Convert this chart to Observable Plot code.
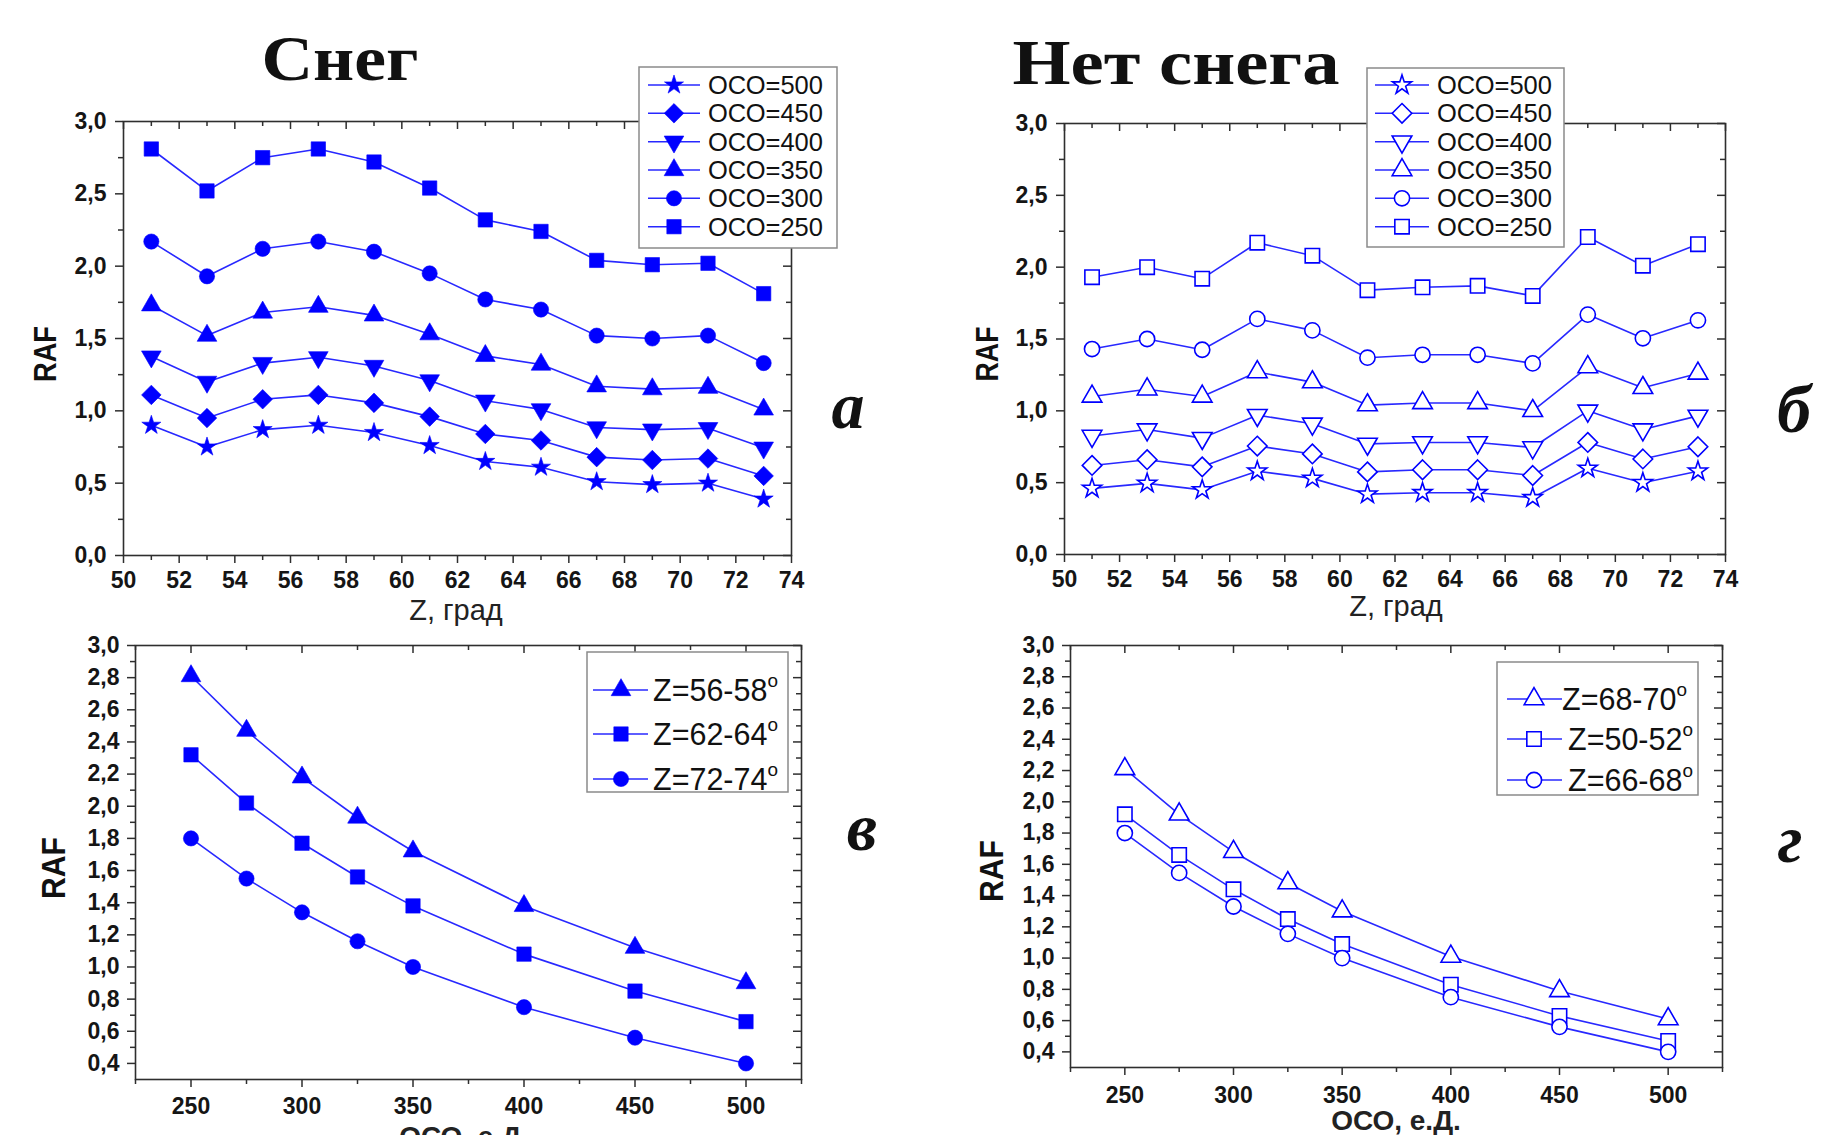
<!DOCTYPE html>
<html><head><meta charset="utf-8">
<script src="https://cdn.jsdelivr.net/npm/d3@7"></script>
<script src="https://cdn.jsdelivr.net/npm/@observablehq/plot@0.6"></script>
<style>
body{margin:0;background:#fff;}
#root{position:relative;width:1843px;height:1135px;overflow:hidden;background:#fff;}
</style></head><body><div id="root"></div>
<script>
// ---------- DATA ----------
const zenith = [51,53,55,57,59,61,63,65,67,69,71,73];
// Panel а (snow)
const snow500 = [0.90,0.75,0.87,0.90,0.85,0.76,0.65,0.61,0.51,0.49,0.50,0.39];
const snow450 = [1.11,0.95,1.08,1.11,1.055,0.96,0.84,0.795,0.68,0.66,0.67,0.55];
const snow400 = [1.375,1.20,1.33,1.37,1.31,1.21,1.07,1.01,0.885,0.87,0.88,0.745];
const snow350 = [1.73,1.52,1.68,1.72,1.66,1.53,1.38,1.32,1.17,1.15,1.16,1.01];
const snow300 = [2.17,1.93,2.12,2.17,2.10,1.95,1.77,1.70,1.52,1.50,1.52,1.33];
const snow250 = [2.81,2.52,2.75,2.81,2.72,2.54,2.32,2.24,2.04,2.01,2.02,1.81];
// Panel б (no snow)
const nosnow500 = [0.46,0.495,0.45,0.58,0.53,0.42,0.43,0.43,0.395,0.60,0.50,0.58];
const nosnow450 = [0.62,0.66,0.61,0.755,0.70,0.575,0.59,0.59,0.55,0.78,0.665,0.75];
const nosnow400 = [0.825,0.87,0.81,0.97,0.91,0.77,0.78,0.78,0.745,1.00,0.87,0.965];
const nosnow350 = [1.10,1.15,1.10,1.27,1.20,1.04,1.055,1.055,1.00,1.305,1.16,1.26];
const nosnow300 = [1.43,1.50,1.425,1.64,1.56,1.37,1.39,1.39,1.33,1.67,1.505,1.63];
const nosnow250 = [1.93,2.00,1.92,2.17,2.08,1.84,1.86,1.87,1.80,2.21,2.01,2.16];
const ocoLabels = ["ОСО=500","ОСО=450","ОСО=400","ОСО=350","ОСО=300","ОСО=250"];
// Panels в, г
const oco = [250,275,300,325,350,400,450,500];
const snowZ5658 = [2.81,2.47,2.18,1.93,1.72,1.38,1.12,0.90];
const snowZ6264 = [2.32,2.02,1.77,1.56,1.38,1.08,0.85,0.66];
const snowZ7274 = [1.80,1.55,1.34,1.16,1.00,0.75,0.56,0.40];
const nosnowZ6870 = [2.21,1.92,1.68,1.48,1.30,1.01,0.79,0.61];
const nosnowZ5052 = [1.92,1.66,1.44,1.25,1.09,0.83,0.63,0.47];
const nosnowZ6668 = [1.80,1.545,1.33,1.155,1.00,0.75,0.56,0.40];
const labelsV = ["Z=56-58","Z=62-64","Z=72-74"];
const labelsG = ["Z=68-70","Z=50-52","Z=66-68"];
// ticks
const zTicks = [50,52,54,56,58,60,62,64,66,68,70,72,74];
const zMinor = [51,53,55,57,59,61,63,65,67,69,71,73];
const rafTicksTop = [0,0.5,1,1.5,2,2.5,3];
const rafMinorTop = [0.25,0.75,1.25,1.75,2.25,2.75];
const ocoTicks = [250,300,350,400,450,500];
const ocoMinor = [225,275,325,375,425,475,525];
const rafTicksBot = [0.4,0.6,0.8,1.0,1.2,1.4,1.6,1.8,2.0,2.2,2.4,2.6,2.8,3.0];
const rafMinorBot = [0.5,0.7,0.9,1.1,1.3,1.5,1.7,1.9,2.1,2.3,2.5,2.7,2.9];

// ---------- STYLE ----------
const axisInk = "#2e2e2e";
const markColor = "#0000ff";
const lineColor = "#2828ff";
const sansFont = "'Liberation Sans', Arial, sans-serif";
const triangleDown = {draw(ctx, size){const s3=Math.sqrt(3);const y=-Math.sqrt(size/(s3*3));ctx.moveTo(0,-2*y);ctx.lineTo(-s3*y,y);ctx.lineTo(s3*y,y);ctx.closePath();}};
const SYM = {
  star:{type:d3.symbolStar, r:6},
  diamond:{type:d3.symbolDiamond2, r:8.8},
  tdown:{type:triangleDown, r:7.3},
  tup:{type:d3.symbolTriangle, r:7.3},
  circle:{type:d3.symbolCircle, r:7.6},
  square:{type:d3.symbolSquare, r:8.1}
};
const fmtComma = d => d.toFixed(1).replace(".", ",");

const root = document.getElementById("root");

function drawPanel(p){
  const mL=110, mR=14, mT=14, mB=60;
  const w = p.R - p.L, h = p.B - p.T;
  const txtStyle = {fontSize: p.fontSize, fontWeight: "bold", fontFamily: sansFont, fill: "#151515"};
  const marks = [];
  p.series.forEach(s => {
    const rows = s.x.map((x,i)=>({x, y:s.y[i]}));
    marks.push(Plot.line(rows, {x:"x", y:"y", stroke: lineColor, strokeWidth: 1.6}));
  });
  p.series.forEach(s => {
    const rows = s.x.map((x,i)=>({x, y:s.y[i]}));
    const sy = SYM[s.symbol];
    marks.push(Plot.dot(rows, {x:"x", y:"y", symbol: sy.type, r: sy.r,
      fill: p.hollow ? "white" : markColor, stroke: markColor, strokeWidth: p.hollow ? 1.6 : 0.6}));
  });
  marks.push(
    Plot.frame({stroke: axisInk, strokeWidth: 1.6}),
    Plot.axisX(p.xTicks, {tickSize: 8, tickPadding: p.xPad, tickFormat: d => String(d), strokeWidth: 1.5, stroke: axisInk, label: null, ...txtStyle}),
    Plot.axisX(p.xMinor, {tickSize: 5, tickFormat: () => "", strokeWidth: 1.5, stroke: axisInk, label: null}),
    Plot.axisY(p.yTicks, {tickSize: 8, tickPadding: p.yPad, tickFormat: fmtComma, strokeWidth: 1.5, stroke: axisInk, label: null, ...txtStyle}),
    Plot.axisY(p.yMinor, {tickSize: 5, tickFormat: () => "", strokeWidth: 1.5, stroke: axisInk, label: null}),
    Plot.tickX(p.xTicks, {x: d => d, insetBottom: h - 8, stroke: axisInk, strokeWidth: 1.5}),
    Plot.tickX(p.xMinor, {x: d => d, insetBottom: h - 5, stroke: axisInk, strokeWidth: 1.5}),
    Plot.tickY(p.yTicks, {y: d => d, insetLeft: w - 8, stroke: axisInk, strokeWidth: 1.5}),
    Plot.tickY(p.yMinor, {y: d => d, insetLeft: w - 5, stroke: axisInk, strokeWidth: 1.5})
  );
  const svg = Plot.plot({
    width: w + mL + mR, height: h + mT + mB,
    marginLeft: mL, marginRight: mR, marginTop: mT, marginBottom: mB,
    x: {domain: p.xDomain, label: null},
    y: {domain: p.yDomain, label: null},
    style: {fontFamily: sansFont, fontSize: p.fontSize + "px", fontWeight: "bold",
            color: "#1a1a1a", background: "transparent", overflow: "visible", maxWidth: "none"},
    marks
  });
  svg.style.position = "absolute";
  svg.style.left = (p.L - mL) + "px";
  svg.style.top = (p.T - mT) + "px";
  root.appendChild(svg);
}

drawPanel({L:123, R:791, T:121, B:555, xDomain:[50,74], yDomain:[0,3],
  xTicks: zTicks, xMinor: zMinor, yTicks: rafTicksTop, yMinor: rafMinorTop, xPad: 8, yPad: 9, fontSize: 23,
  hollow: false,
  series: [
    {x: zenith, y: snow500, symbol:"star"},
    {x: zenith, y: snow450, symbol:"diamond"},
    {x: zenith, y: snow400, symbol:"tdown"},
    {x: zenith, y: snow350, symbol:"tup"},
    {x: zenith, y: snow300, symbol:"circle"},
    {x: zenith, y: snow250, symbol:"square"}
  ]});
drawPanel({L:1064, R:1725, T:123, B:554, xDomain:[50,74], yDomain:[0,3],
  xTicks: zTicks, xMinor: zMinor, yTicks: rafTicksTop, yMinor: rafMinorTop, xPad: 8, yPad: 9, fontSize: 23,
  hollow: true,
  series: [
    {x: zenith, y: nosnow500, symbol:"star"},
    {x: zenith, y: nosnow450, symbol:"diamond"},
    {x: zenith, y: nosnow400, symbol:"tdown"},
    {x: zenith, y: nosnow350, symbol:"tup"},
    {x: zenith, y: nosnow300, symbol:"circle"},
    {x: zenith, y: nosnow250, symbol:"square"}
  ]});
drawPanel({L:135, R:801, T:645, B:1079, xDomain:[225,525], yDomain:[0.3,3],
  xTicks: ocoTicks, xMinor: ocoMinor, yTicks: rafTicksBot, yMinor: rafMinorBot, xPad: 10, yPad: 8, fontSize: 23,
  hollow: false,
  series: [
    {x: oco, y: snowZ5658, symbol:"tup"},
    {x: oco, y: snowZ6264, symbol:"square"},
    {x: oco, y: snowZ7274, symbol:"circle"}
  ]});
drawPanel({L:1070, R:1722, T:645, B:1067, xDomain:[225,525], yDomain:[0.3,3],
  xTicks: ocoTicks, xMinor: ocoMinor, yTicks: rafTicksBot, yMinor: rafMinorBot, xPad: 11, yPad: 8, fontSize: 23,
  hollow: true,
  series: [
    {x: oco, y: nosnowZ6870, symbol:"tup"},
    {x: oco, y: nosnowZ5052, symbol:"square"},
    {x: oco, y: nosnowZ6668, symbol:"circle"}
  ]});

// ---------- OVERLAY: titles, labels, legends ----------
const ov = d3.select(root).append("svg")
  .attr("width", 1843).attr("height", 1135)
  .style("position","absolute").style("left","0px").style("top","0px");

function txt(t, x, y, o){
  const e = ov.append("text").attr("x", x).attr("y", y).text(t)
    .attr("text-anchor", o.anchor || "middle")
    .style("font-family", o.family || sansFont)
    .style("font-size", o.size + "px")
    .style("font-weight", o.weight || "normal")
    .style("font-style", o.style || "normal")
    .attr("fill", o.fill || "#111");
  if (o.len) e.attr("textLength", o.len).attr("lengthAdjust", "spacingAndGlyphs");
  if (o.rotate) e.attr("transform", `rotate(${o.rotate},${x},${y})`).attr("dy", "0.36em");
  return e;
}
const serif = "'Liberation Serif', 'Times New Roman', serif";
txt("Снег", 340, 80, {size: 64, weight: "bold", family: serif, len: 157});
txt("Нет снега", 1176, 84, {size: 64, weight: "bold", family: serif, len: 327});
txt("а", 848, 428, {size: 66, weight: "bold", style: "italic", family: serif});
txt("б", 1794, 432, {size: 68, weight: "bold", style: "italic", family: serif});
txt("в", 862, 850, {size: 68, weight: "bold", style: "italic", family: serif});
txt("г", 1790, 862, {size: 68, weight: "bold", style: "italic", family: serif});
txt("RAF", 45, 354, {size: 31, weight: "bold", rotate: -90, len: 56});
txt("RAF", 987, 354, {size: 31, weight: "bold", rotate: -90, len: 55});
txt("RAF", 53, 868, {size: 34, weight: "bold", rotate: -90, len: 62});
txt("RAF", 991, 871, {size: 34, weight: "bold", rotate: -90, len: 62});
txt("Z, град", 456, 620, {size: 29, fill: "#222"});
txt("Z, град", 1396, 616, {size: 29, fill: "#222"});
txt("ОСО, е.Д.", 464, 1146, {size: 28, weight: "bold", fill: "#222"});
txt("ОСО, е.Д.", 1396, 1130, {size: 28, weight: "bold", fill: "#222"});

function legend(L){
  const g = ov.append("g").attr("transform", `translate(${L.x},${L.y})`);
  g.append("rect").attr("width", L.w).attr("height", L.h).attr("fill", "white")
    .attr("stroke", "#8a8a8a").attr("stroke-width", 1.5);
  L.labels.forEach((lab, i) => {
    const y = L.rows[i];
    g.append("line").attr("x1", L.lx1).attr("x2", L.lx2).attr("y1", y).attr("y2", y)
      .attr("stroke", lineColor).attr("stroke-width", 1.6);
    const sy = SYM[L.symbols[i]];
    g.append("path").attr("d", d3.symbol(sy.type, Math.PI * sy.r * sy.r)())
      .attr("transform", `translate(${L.mx},${y})`)
      .attr("fill", L.hollow ? "white" : markColor).attr("stroke", markColor)
      .attr("stroke-width", L.hollow ? 1.6 : 0.6);
    const t = g.append("text").attr("x", L.tx[i]).attr("y", y).attr("dy", "0.36em")
      .style("font-family", sansFont).style("font-size", L.size + "px")
      .attr("fill", "#111").text(lab);
    if (L.deg) t.append("tspan").attr("dy", "-0.72em").style("font-size", (L.size * 0.62) + "px").text("o");
  });
}
const rowsTop = [18, 46.3, 74.7, 103, 131.3, 159.7];
legend({x:639, y:67, w:198, h:181, rows: rowsTop, lx1:9, lx2:61, mx:35, tx:[69,69,69,69,69,69], size:25.5,
  labels: ocoLabels, symbols:["star","diamond","tdown","tup","circle","square"], hollow:false});
legend({x:1367, y:68, w:197, h:179, rows: rowsTop.map(v=>v-1), lx1:8, lx2:62, mx:35, tx:[70,70,70,70,70,70], size:25.5,
  labels: ocoLabels, symbols:["star","diamond","tdown","tup","circle","square"], hollow:true});
legend({x:587, y:652, w:201, h:140, rows:[38,82,127], lx1:6, lx2:61, mx:34, tx:[66,66,66], size:30.5, deg:true,
  labels: labelsV, symbols:["tup","square","circle"], hollow:false});
legend({x:1497, y:662, w:201, h:133, rows:[37,77,118], lx1:10, lx2:65, mx:37, tx:[65,71,71], size:30.5, deg:true,
  labels: labelsG, symbols:["tup","square","circle"], hollow:true});
</script></body></html>
